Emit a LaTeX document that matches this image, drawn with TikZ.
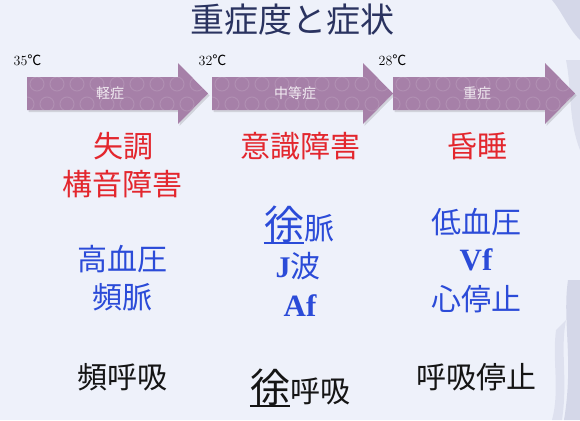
\documentclass[tikz,border=0pt]{standalone}
\usepackage{fontspec}
\newfontfamily\jpfont{Noto Sans CJK JP}
\newfontfamily\latfont{Liberation Serif}
\usetikzlibrary{positioning}
\definecolor{bgcol}{HTML}{EEF1FA}
\definecolor{stagecol}{HTML}{A680A8}
\definecolor{symred}{HTML}{E3262D}
\definecolor{symblue}{HTML}{2B4BD8}
\definecolor{symblack}{HTML}{151515}
\definecolor{titlecol}{HTML}{2A3360}
\definecolor{brushcol}{HTML}{9A9CC0}
\tikzset{
  stagearrow/.style={fill=stagecol},
  stagelabel/.style={font=\jpfont\fontsize{14}{14}\selectfont, text=white, text opacity=0.85, inner sep=0pt},
  templabel/.style={font=\fontsize{14}{14}\selectfont, text=black, inner sep=0pt},
  sympt/.style={font=\jpfont\fontsize{30}{30}\selectfont, inner sep=0pt},
  redtxt/.style={sympt, text=symred},
  bluetxt/.style={sympt, text=symblue},
  blacktxt/.style={sympt, text=symblack},
  bigchar/.style={font=\jpfont\fontsize{40}{40}\selectfont},
  latinbold/.style={font=\latfont\bfseries\fontsize{31}{31}\selectfont}
}
\begin{document}
\begin{tikzpicture}[x=1pt,y=-1pt]
\useasboundingbox (0,0) rectangle (580,420);
\fill[bgcol] (0,0) rectangle (580,420);
% brush strokes at the right edge
\fill[brushcol,opacity=0.3] (552,0) .. controls (562,12) and (568,28) .. (580,40) -- (580,0) -- cycle;
\fill[brushcol,opacity=0.2] (566,60) .. controls (572,90) and (568,120) .. (580,150) -- (580,60) -- cycle;
\fill[brushcol,opacity=0.3] (568,280) .. controls (562,320) and (574,360) .. (564,420) -- (580,420) -- (580,280) -- cycle;
\fill[brushcol,opacity=0.18] (556,330) .. controls (552,360) and (560,390) .. (552,420) -- (562,420) .. controls (568,380) and (560,350) .. (566,320) -- cycle;

% title
\node[font=\jpfont\fontsize{34}{34}\selectfont, text=titlecol, inner sep=0pt] (title) at (292,20) {重症度と症状};

% temperatures
\node[templabel] (t35) at (27.5,60) {35{\jpfont ℃}};
\node[templabel] (t32) at (212.5,60) {32{\jpfont ℃}};
\node[templabel] (t28) at (392.5,60) {28{\jpfont ℃}};

% stage arrows
\foreach \xa/\xb/\xc/\nm/\lx/\txt in {27/178/208/mild/110/軽症, 212/363/393/moderate/295/中等症, 393/545/575/severe/477/重症}{
  \fill[black,opacity=0.12] (\xa+1.5,79) -- (\xb+1.5,79) -- (\xb+1.5,65) -- (\xc+1.5,95.5) -- (\xb+1.5,126) -- (\xb+1.5,112) -- (\xa+1.5,112) -- cycle;
  \fill[stagearrow] (\xa,77) -- (\xb,77) -- (\xb,63) -- (\xc,93.5) -- (\xb,124) -- (\xb,110) -- (\xa,110) -- cycle;
  \begin{scope}
    \clip (\xa,77) -- (\xb,77) -- (\xb,63) -- (\xc,93.5) -- (\xb,124) -- (\xb,110) -- (\xa,110) -- cycle;
    \foreach \i in {0,...,9}{
      \draw[white,opacity=0.12,line width=1pt] (\xa+10+\i*20,84) circle (7);
      \draw[white,opacity=0.12,line width=1pt] (\xa+\i*20,104) circle (7);
    }
  \end{scope}
  \node[stagelabel] (\nm) at (\lx,93) {\txt};
}

% consciousness
\node[redtxt] (ataxia) at (123,146) {失調};
\node[redtxt] (dysarthria) at (122,184) {構音障害};
\node[redtxt] (impaired) at (300,146) {意識障害};
\node[redtxt] (coma) at (477,146) {昏睡};

% circulation
\node[bluetxt] (hyperten) at (122,259) {高血圧};
\node[bluetxt] (tachy) at (122,297) {頻脈};
\node[bluetxt, bigchar, anchor=base] (bradychar) at (284,239) {徐};
\node[bluetxt, anchor=base west] (brady) at (bradychar.base east) {脈};
\draw[symblue, line width=2pt] (bradychar.south west) -- (bradychar.south east);
\node[bluetxt] (jwave) at (298,266) {{\latfont\bfseries J}波};
\node[bluetxt, latinbold] (af) at (300,306) {Af};
\node[bluetxt] (hypoten) at (476,222) {低血圧};
\node[bluetxt, latinbold] (vf) at (476,260) {Vf};
\node[bluetxt] (arrest) at (476,299) {心停止};

% respiration
\node[blacktxt] (tachypnea) at (122,377) {頻呼吸};
\node[blacktxt, bigchar, anchor=base] (bradypchar) at (270,402) {徐};
\node[blacktxt, anchor=base west] (bradypnea) at (bradypchar.base east) {呼吸};
\draw[symblack, line width=2pt] (bradypchar.south west) -- (bradypchar.south east);
\node[blacktxt] (apnea) at (476,377) {呼吸停止};
\end{tikzpicture}
\end{document}
